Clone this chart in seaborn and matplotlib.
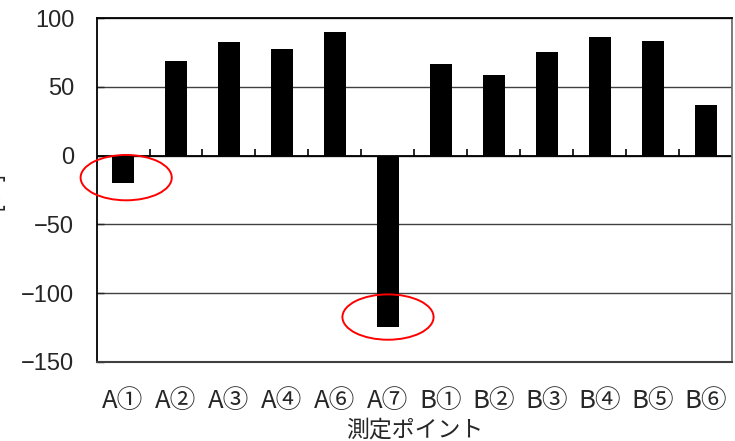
import numpy as np
import pandas as pd
import seaborn as sns
import matplotlib.pyplot as plt
from matplotlib.patches import Ellipse

points = ["A①", "A②", "A③", "A④", "A⑥", "A⑦", "B①", "B②", "B③", "B④", "B⑤", "B⑥"]
values = [-20, 69, 82.5, 77.5, 90, -124.5, 67, 59, 75.5, 86.5, 83.5, 37]
y_ticks = [100, 50, 0, -50, -100, -150]

# red circles marking the negative points (center x, center y, width, height in data units)
circle_x = [0.06, 5.0]
circle_y = [-16, -117.5]
circle_w = [1.72, 1.72]
circle_h = [33, 33]

sns.set_style("white")
plt.rcParams["font.family"] = ["Liberation Sans", "DejaVu Sans"]
jp = ["Noto Sans CJK JP", "DejaVu Sans"]

df = pd.DataFrame({"point": points, "value": values})

fig, ax = plt.subplots(figsize=(7.35, 4.41), dpi=100)
fig.subplots_adjust(left=96.5/735, right=732.5/735, top=1-18.3/441, bottom=1-361.7/441)

sns.barplot(data=df, x="point", y="value", color="black", width=0.42,
            saturation=1, edgecolor="none", ax=ax)

ax.set_ylim(-150, 100)
ax.set_xlim(-0.5, len(points) - 0.5)
ax.set_yticks(y_ticks)
ax.yaxis.grid(True, color="#404040", lw=1.0)
ax.set_axisbelow(True)

# zero line with small tick marks between categories
ax.axhline(0, color="black", lw=1.3, zorder=1)
bounds = np.arange(len(points) - 1) + 0.5
ax.vlines(bounds, 0, 5, color="black", lw=1.2, zorder=1)

for sp in ["left", "top"]:
    ax.spines[sp].set_color("black")
    ax.spines[sp].set_linewidth(1.3)
ax.spines["right"].set_color("#707070")
ax.spines["bottom"].set_color("#404040")
ax.spines["right"].set_linewidth(1.3)
ax.spines["bottom"].set_linewidth(1.5)

ax.tick_params(axis="y", direction="in", length=5, width=1.0, labelsize=17, pad=16, left=True)
ax.tick_params(axis="x", length=0, pad=19)
for lab in ax.get_xticklabels():
    lab.set_fontfamily(jp)
    lab.set_fontsize(18.5)

ax.set_xlabel("測定ポイント", fontsize=16.5, family=jp, labelpad=3)
ax.set_ylabel("[％]", fontsize=17, family=jp)
ax.yaxis.set_label_coords(-0.147, 0.5)

for cx, cy, w, h in zip(circle_x, circle_y, circle_w, circle_h):
    ax.add_patch(Ellipse((cx, cy), w, h, fill=False, edgecolor="red", lw=1.4,
                         zorder=5, clip_on=False))

fig.savefig("out.png", dpi=100)
